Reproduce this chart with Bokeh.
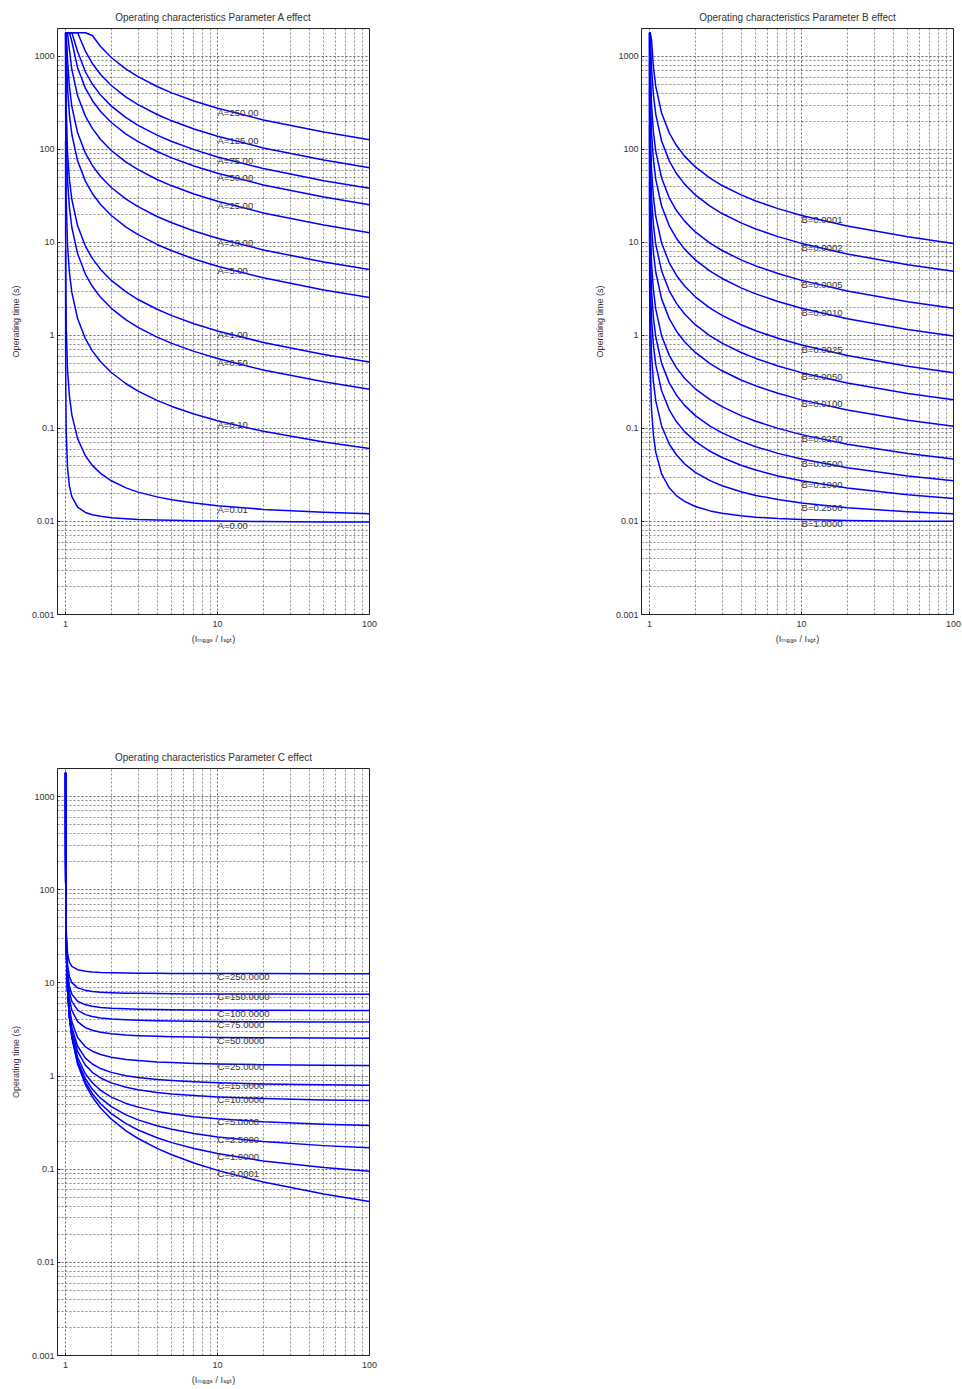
from bokeh.plotting import figure
from bokeh.models import Range1d, FixedTicker, CustomJSTickFormatter, ColumnDataSource, Spacer
from bokeh.layouts import column, row
from bokeh.core.properties import value
from bokeh.embed import file_html
from bokeh.resources import INLINE

# ---------------- data ----------------
M = [1.0001, 1.001, 1.003, 1.01, 1.03, 1.06, 1.1, 1.2, 1.35, 1.5, 1.7, 2, 2.5, 3, 4, 5, 7, 10, 20, 50, 100]
LABEL_AT = 10  # curve labels placed at I/Iset = 10

x_ticks = [1, 10, 100]
x_minor = [2, 3, 4, 5, 6, 7, 8, 9, 20, 30, 40, 50, 60, 70, 80, 90]
y_ticks = [0.001, 0.01, 0.1, 1, 10, 100, 1000]
y_minor = [0.002, 0.003, 0.004, 0.005, 0.006, 0.007, 0.008, 0.009,
           0.02, 0.03, 0.04, 0.05, 0.06, 0.07, 0.08, 0.09,
           0.2, 0.3, 0.4, 0.5, 0.6, 0.7, 0.8, 0.9,
           2, 3, 4, 5, 6, 7, 8, 9,
           20, 30, 40, 50, 60, 70, 80, 90,
           200, 300, 400, 500, 600, 700, 800, 900, 2000]

a_labels = ["A=250.00", "A=125.00", "A=75.00", "A=50.00", "A=25.00", "A=10.00",
            "A=5.00", "A=1.00", "A=0.50", "A=0.10", "A=0.01", "A=0.00"]
a_curves = [
    [1800, 1800, 1800, 1800, 1800, 1800, 1800, 1800, 1800, 1684.5, 1281.7, 975.5, 732.2, 606.8, 475.9, 406.7, 332.4, 277.3, 207.9, 154.0, 127.5],
    [1800, 1800, 1800, 1800, 1800, 1800, 1800, 1800, 1142.4, 842.3, 640.8, 487.8, 366.1, 303.4, 238.0, 203.4, 166.2, 138.7, 103.9, 77.0, 63.76],
    [1800, 1800, 1800, 1800, 1800, 1800, 1800, 1132.5, 685.4, 505.4, 384.5, 292.7, 219.7, 182.0, 142.8, 122.0, 99.71, 83.2, 62.37, 46.20, 38.26],
    [1800, 1800, 1800, 1800, 1800, 1800, 1449, 755.0, 457.0, 336.9, 256.3, 195.1, 146.4, 121.4, 95.19, 81.35, 66.48, 55.47, 41.59, 30.80, 25.51],
    [1800, 1800, 1800, 1800, 1800, 1186.8, 724.5, 377.5, 228.5, 168.5, 128.2, 97.56, 73.23, 60.69, 47.60, 40.68, 33.24, 27.74, 20.80, 15.41, 12.76],
    [1800, 1800, 1800, 1800, 936.6, 474.7, 289.8, 151.0, 91.40, 67.39, 51.28, 39.03, 29.30, 24.28, 19.05, 16.28, 13.30, 11.10, 8.325, 6.168, 5.11],
    [1800, 1800, 1800, 1392.5, 468.3, 237.4, 144.9, 75.51, 45.70, 33.70, 25.64, 19.52, 14.65, 12.15, 9.529, 8.144, 6.657, 5.556, 4.168, 3.089, 2.56],
    [1800, 1800, 925.2, 278.5, 93.67, 47.48, 28.99, 15.11, 9.149, 6.748, 5.137, 3.912, 2.939, 2.437, 1.914, 1.637, 1.339, 1.119, 0.8415, 0.6258, 0.520],
    [1800, 1386.5, 462.6, 139.3, 46.84, 23.75, 14.50, 7.56, 4.580, 3.379, 2.573, 1.961, 1.474, 1.224, 0.9619, 0.8234, 0.6747, 0.5646, 0.4258, 0.3179, 0.265],
    [1800, 277.3, 92.53, 27.86, 9.376, 4.757, 2.908, 1.520, 0.9239, 0.6838, 0.5227, 0.4002, 0.3029, 0.2527, 0.2004, 0.1727, 0.1429, 0.1209, 0.0932, 0.0716, 0.0610],
    [124.7, 12.49, 4.163, 1.263, 0.4313, 0.2234, 0.1402, 0.0778, 0.0509, 0.0401, 0.0329, 0.0274, 0.0230, 0.0207, 0.0184, 0.0171, 0.0158, 0.0148, 0.0135, 0.0126, 0.0121],
    [8.3, 0.83, 0.28, 0.0933, 0.0379, 0.0240, 0.0185, 0.0143, 0.0125, 0.0118, 0.0114, 0.0110, 0.0107, 0.0105, 0.0104, 0.0103, 0.0102, 0.0101, 0.0100, 0.0099, 0.0099],
]

b_labels = ["B=0.0001", "B=0.0002", "B=0.0005", "B=0.0010", "B=0.0025", "B=0.0050",
            "B=0.0100", "B=0.0250", "B=0.0500", "B=0.1000", "B=0.2500", "B=1.0000"]
b_curves = [
    [1800, 1800, 1800, 1800, 1522.4, 772.3, 472.1, 246.8, 149.96, 110.99, 84.81, 64.93, 49.12, 40.97, 32.47, 27.97, 23.13, 19.55, 15.03, 11.51, 9.779],
    [1800, 1800, 1800, 1800, 761.2, 386.1, 236.1, 123.4, 74.98, 55.50, 42.41, 32.47, 24.56, 20.49, 16.24, 13.99, 11.57, 9.779, 7.518, 5.759, 4.894],
    [1800, 1800, 1800, 904.5, 304.5, 154.5, 94.44, 49.37, 30.00, 22.21, 16.97, 12.99, 9.830, 8.200, 6.500, 5.600, 4.633, 3.916, 3.012, 2.308, 1.962],
    [1800, 1800, 1502, 452.2, 152.2, 77.24, 47.22, 24.69, 15.00, 11.11, 8.488, 6.500, 4.919, 4.104, 3.254, 2.804, 2.320, 1.962, 1.510, 1.158, 0.9849],
    [1800, 1800, 600.9, 180.9, 60.91, 30.90, 18.90, 9.881, 6.006, 4.447, 3.400, 2.605, 1.972, 1.646, 1.306, 1.126, 0.9328, 0.7895, 0.6086, 0.4679, 0.3986],
    [1800, 900.4, 300.4, 90.46, 30.46, 15.46, 9.451, 4.944, 3.007, 2.227, 1.704, 1.306, 0.9900, 0.8270, 0.6570, 0.5670, 0.4703, 0.3986, 0.3082, 0.2378, 0.2032],
    [1800, 450.2, 150.2, 45.23, 15.23, 7.731, 4.729, 2.476, 1.507, 1.118, 0.8558, 0.6570, 0.4989, 0.4174, 0.3324, 0.2874, 0.2390, 0.2032, 0.1580, 0.1228, 0.1055],
    [1800, 180.1, 60.10, 18.10, 6.097, 3.097, 1.896, 0.9950, 0.6076, 0.4517, 0.3470, 0.2674, 0.2042, 0.1716, 0.1376, 0.1196, 0.1003, 0.08594, 0.06786, 0.05380, 0.04688],
    [900.0, 90.05, 30.05, 9.053, 3.053, 1.552, 0.9520, 0.5014, 0.3077, 0.2297, 0.1774, 0.1376, 0.1060, 0.08969, 0.0727, 0.06370, 0.0540, 0.04688, 0.03785, 0.03083, 0.02738],
    [450.0, 45.03, 15.03, 4.530, 1.530, 0.7800, 0.4799, 0.2546, 0.1577, 0.1187, 0.0926, 0.07270, 0.0569, 0.04875, 0.0403, 0.03577, 0.0309, 0.02738, 0.02288, 0.01940, 0.01769],
    [180.0, 18.02, 6.017, 1.817, 0.6167, 0.3167, 0.1966, 0.1065, 0.06776, 0.05218, 0.0417, 0.03378, 0.0275, 0.02424, 0.0209, 0.01908, 0.0172, 0.01578, 0.01404, 0.01271, 0.01208],
    [45.01, 4.51, 1.51, 0.46, 0.16, 0.085, 0.055, 0.0325, 0.02286, 0.019, 0.01643, 0.0145, 0.0130, 0.01225, 0.0115, 0.01113, 0.01075, 0.0105, 0.01024, 0.01009, 0.01005],
]

c_labels = ["C=250.0000", "C=150.0000", "C=100.0000", "C=75.0000", "C=50.0000", "C=25.0000",
            "C=15.0000", "C=10.0000", "C=5.0000", "C=2.5000", "C=1.0000", "C=0.0001"]
c_curves = [
    [1800, 258.9, 94.69, 37.24, 20.82, 16.72, 15.07, 13.84, 13.31, 13.10, 12.95, 12.84, 12.76, 12.71, 12.67, 12.64, 12.62, 12.60, 12.57, 12.55, 12.54],
    [1800, 253.9, 89.69, 32.24, 15.82, 11.72, 10.07, 8.839, 8.309, 8.096, 7.953, 7.844, 7.758, 7.714, 7.667, 7.643, 7.616, 7.597, 7.573, 7.554, 7.545],
    [1800, 251.4, 87.19, 29.74, 13.32, 9.215, 7.572, 6.339, 5.809, 5.596, 5.453, 5.344, 5.258, 5.214, 5.167, 5.143, 5.116, 5.097, 5.073, 5.054, 5.045],
    [1800, 250.1, 85.94, 28.49, 12.07, 7.965, 6.322, 5.089, 4.559, 4.346, 4.203, 4.094, 4.008, 3.964, 3.917, 3.893, 3.866, 3.847, 3.823, 3.804, 3.795],
    [1800, 248.9, 84.69, 27.24, 10.82, 6.715, 5.072, 3.839, 3.309, 3.096, 2.953, 2.844, 2.758, 2.714, 2.667, 2.643, 2.616, 2.597, 2.573, 2.554, 2.545],
    [1800, 247.6, 83.44, 25.99, 9.569, 5.465, 3.822, 2.589, 2.059, 1.846, 1.703, 1.594, 1.508, 1.464, 1.417, 1.393, 1.366, 1.347, 1.323, 1.304, 1.295],
    [1800, 247.1, 82.94, 25.49, 9.069, 4.965, 3.322, 2.089, 1.559, 1.346, 1.203, 1.094, 1.008, 0.9635, 0.9172, 0.8927, 0.8664, 0.8471, 0.8227, 0.8040, 0.7950],
    [1800, 246.9, 82.69, 25.24, 8.819, 4.715, 3.072, 1.839, 1.309, 1.096, 0.9531, 0.8444, 0.7580, 0.7135, 0.6672, 0.6427, 0.6164, 0.5971, 0.5727, 0.5540, 0.5450],
    [1800, 246.6, 82.44, 24.99, 8.569, 4.465, 2.822, 1.589, 1.059, 0.8463, 0.7031, 0.5944, 0.5080, 0.4635, 0.4172, 0.3927, 0.3664, 0.3471, 0.3227, 0.3040, 0.2950],
    [1800, 246.5, 82.32, 24.87, 8.444, 4.340, 2.697, 1.464, 0.9344, 0.7213, 0.5781, 0.4694, 0.3830, 0.3385, 0.2922, 0.2677, 0.2414, 0.2221, 0.1977, 0.1790, 0.1700],
    [1800, 246.4, 82.24, 24.79, 8.369, 4.265, 2.622, 1.389, 0.8594, 0.6463, 0.5031, 0.3944, 0.3080, 0.2635, 0.2172, 0.1927, 0.1664, 0.1471, 0.1227, 0.1040, 0.0950],
    [1800, 246.4, 82.19, 24.74, 8.319, 4.215, 2.572, 1.339, 0.8094, 0.5963, 0.4531, 0.3444, 0.2580, 0.2135, 0.1672, 0.1427, 0.1164, 0.09705, 0.07273, 0.05403, 0.04497],
]

titles = ["Operating characteristics Parameter A effect",
          "Operating characteristics Parameter B effect",
          "Operating characteristics Parameter C effect"]

FONT = "Liberation Sans, Arial, DejaVu Sans"
GRID_COLOR = "#555555"
CURVE_COLOR = "#0000FF"


def make_panel(title, curves, labels, width, height, left, right, top, bottom, label_offset):
    p = figure(width=width, height=height, x_axis_type="log", y_axis_type="log",
               x_range=Range1d(0.885, 100), y_range=Range1d(0.001, 2000),
               output_backend="svg", toolbar_location=None,
               min_border_left=left, min_border_right=right,
               min_border_top=top, min_border_bottom=bottom,
               background_fill_color="white", border_fill_color="white")
    p.title.text = title
    p.title.align = "center"
    p.title.text_font = FONT
    p.title.text_font_style = "normal"
    p.title.text_font_size = "10px"
    p.title.text_color = "#333333"
    p.title.standoff = 11

    p.outline_line_color = "#222222"
    p.outline_line_width = 1

    for ax in (p.xaxis[0], p.yaxis[0]):
        ax.axis_line_color = "#222222"
        ax.major_tick_in = 3
        ax.major_tick_out = 0
        ax.minor_tick_in = 0
        ax.minor_tick_out = 0
        ax.major_tick_line_color = "#222222"
        ax.major_label_text_font = FONT
        ax.major_label_text_font_size = "9px"
        ax.major_label_text_color = "#333333"
        ax.axis_label_text_font = FONT
        ax.axis_label_text_font_size = "9px"
        ax.axis_label_text_font_style = "normal"
        ax.axis_label_text_color = "#333333"
        ax.formatter = CustomJSTickFormatter(code="""
            if (tick >= 1) { return Math.round(tick).toString(); }
            return String(parseFloat(tick.toPrecision(4)));
        """)

    p.xaxis[0].ticker = FixedTicker(ticks=x_ticks, minor_ticks=x_minor)
    p.yaxis[0].ticker = FixedTicker(ticks=y_ticks, minor_ticks=y_minor)
    p.xaxis[0].major_label_standoff = 6
    p.yaxis[0].major_label_standoff = 3
    p.xaxis[0].axis_label = "(I\u2098\u2091\u2090\u209b / I\u209b\u2091\u209c)"
    p.xaxis[0].axis_label_standoff = 4
    p.yaxis[0].axis_label = "Operating time (s)"
    p.yaxis[0].axis_label_standoff = 8

    for g in (p.xgrid[0], p.ygrid[0]):
        g.grid_line_color = GRID_COLOR
        g.grid_line_dash = "2 2"
        g.grid_line_width = 1
        g.grid_line_alpha = 0.9
        g.minor_grid_line_color = GRID_COLOR
        g.minor_grid_line_dash = "2 2"
        g.minor_grid_line_width = 1
        g.minor_grid_line_alpha = 0.7

    for ys in curves:
        p.line(M, ys, line_color=CURVE_COLOR, line_width=1.5, line_join="round")

    idx = M.index(LABEL_AT)
    src = ColumnDataSource(dict(x=[LABEL_AT] * len(labels),
                                y=[c[idx] for c in curves],
                                t=labels))
    p.text(x="x", y="y", text="t", source=src, text_font=value("Liberation Sans"),
           text_font_size="9.5px", text_color="#333333", text_baseline="middle",
           text_align="left", y_offset=label_offset)
    return p


pA = make_panel(titles[0], a_curves, a_labels, 400, 740, 57, 31, 28, 126, 4)
pB = make_panel(titles[1], b_curves, b_labels, 378, 740, 57, 9, 28, 126, 4)
pC = make_panel(titles[2], c_curves, c_labels, 400, 649, 57, 31, 28, 34, 3)

layout = column(row(pA, Spacer(width=184, height=740), pB), pC)

with open("out.html", "w") as f:
    f.write(file_html(layout, INLINE))
